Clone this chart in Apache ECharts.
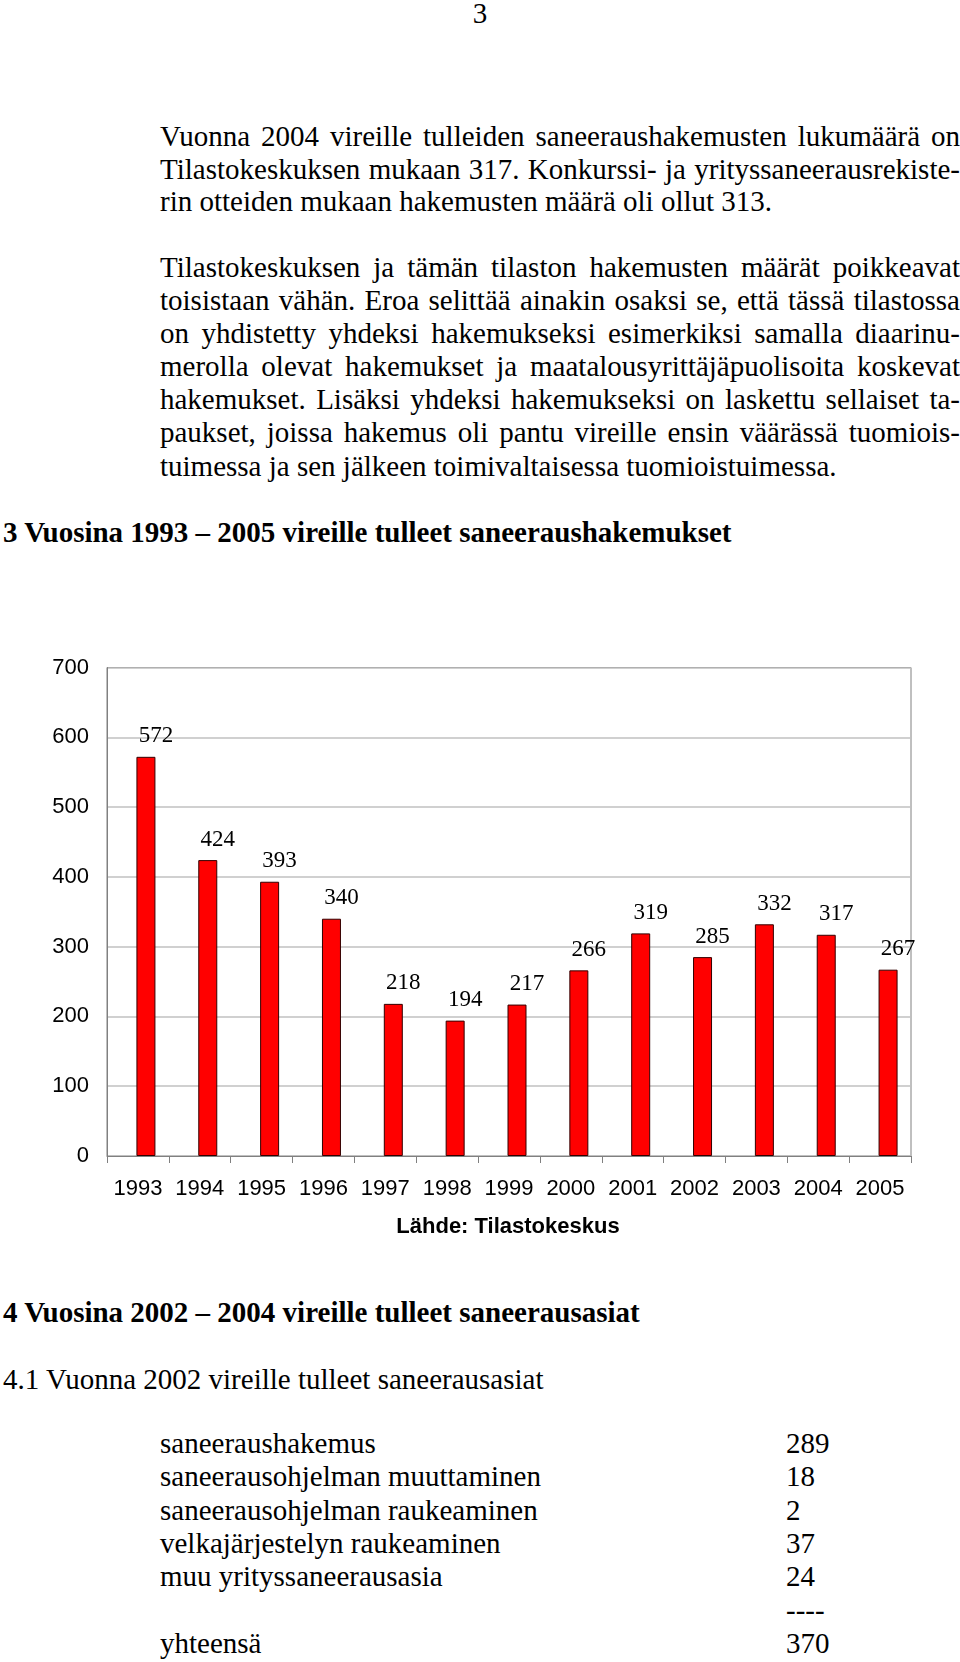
<!DOCTYPE html>
<html><head><meta charset="utf-8">
<script src="https://cdn.jsdelivr.net/npm/echarts@6/dist/echarts.min.js"></script>
<style>
html,body{margin:0;padding:0;background:#fff;}
body{width:960px;height:1662px;position:relative;overflow:hidden;font-family:"Liberation Serif","Times New Roman",serif;color:#000;}
.t{position:absolute;font-size:29px;line-height:30px;white-space:nowrap;}
.j{position:absolute;left:160px;width:800px;font-size:29px;line-height:30px;text-align:justify;text-align-last:justify;white-space:nowrap;}
.l{text-align-last:left;}
.b{font-weight:bold;}
#chart{position:absolute;left:0;top:600px;width:960px;height:660px;}
</style></head>
<body>
<div class="t" style="left:0;width:960px;text-align:center;top:-2px;">3</div>

<div class="j" style="top:121px;">Vuonna 2004 vireille tulleiden saneeraushakemusten lukumäärä on</div>
<div class="j" style="top:154px;">Tilastokeskuksen mukaan 317. Konkurssi- ja yrityssaneerausrekiste-</div>
<div class="j l" style="top:186px;">rin otteiden mukaan hakemusten määrä oli ollut 313.</div>

<div class="j" style="top:252px;">Tilastokeskuksen ja tämän tilaston hakemusten määrät poikkeavat</div>
<div class="j" style="top:285px;">toisistaan vähän. Eroa selittää ainakin osaksi se, että tässä tilastossa</div>
<div class="j" style="top:318px;">on yhdistetty yhdeksi hakemukseksi esimerkiksi samalla diaarinu-</div>
<div class="j" style="top:351px;">merolla olevat hakemukset ja maatalousyrittäjäpuolisoita koskevat</div>
<div class="j" style="top:384px;">hakemukset. Lisäksi yhdeksi hakemukseksi on laskettu sellaiset ta-</div>
<div class="j" style="top:417px;">paukset, joissa hakemus oli pantu vireille ensin väärässä tuomiois-</div>
<div class="j l" style="top:451px;">tuimessa ja sen jälkeen toimivaltaisessa tuomioistuimessa.</div>

<div class="t b" style="left:3px;top:517px;">3 Vuosina 1993 – 2005 vireille tulleet saneeraushakemukset</div>

<div id="chart"></div>

<div class="t b" style="left:3px;top:1297px;">4 Vuosina 2002 – 2004 vireille tulleet saneerausasiat</div>
<div class="t" style="left:3px;top:1364px;">4.1 Vuonna 2002 vireille tulleet saneerausasiat</div>

<div class="t" style="left:160px;top:1428px;">saneeraushakemus</div><div class="t" style="left:786px;top:1428px;">289</div>
<div class="t" style="left:160px;top:1461px;">saneerausohjelman muuttaminen</div><div class="t" style="left:786px;top:1461px;">18</div>
<div class="t" style="left:160px;top:1495px;">saneerausohjelman raukeaminen</div><div class="t" style="left:786px;top:1495px;">2</div>
<div class="t" style="left:160px;top:1528px;">velkajärjestelyn raukeaminen</div><div class="t" style="left:786px;top:1528px;">37</div>
<div class="t" style="left:160px;top:1561px;">muu yrityssaneerausasia</div><div class="t" style="left:786px;top:1561px;">24</div>
<div class="t" style="left:786px;top:1595px;">----</div>
<div class="t" style="left:160px;top:1628px;">yhteensä</div><div class="t" style="left:786px;top:1628px;">370</div>

<script>
const years = ['1993','1994','1995','1996','1997','1998','1999','2000','2001','2002','2003','2004','2005'];
const applications = [572, 424, 393, 340, 218, 194, 217, 266, 319, 285, 332, 317, 267];
const yTicks = { min: 0, max: 700, interval: 100 };
const sourceNote = 'Lähde: Tilastokeskus';

const sans = '"Liberation Sans", Arial, sans-serif';
const chart = echarts.init(document.getElementById('chart'), null, {renderer: 'canvas'});
chart.setOption({
  animation: false,
  backgroundColor: '#fff',
  grid: [
    { left: 107, right: 49, top: 67.5, height: 488.5, show: true, borderColor: '#808080', borderWidth: 1, backgroundColor: 'transparent' },
    { left: 115, right: 41, top: 67.5, height: 488.5 }
  ],
  graphic: [{
    type: 'text', x: 508, y: 627,
    style: { text: sourceNote, font: 'bold 22px ' + sans, fill: '#000', align: 'center', verticalAlign: 'middle' }
  }],
  xAxis: [{
    gridIndex: 0, type: 'category', data: years,
    axisLine: { lineStyle: { color: '#808080', width: 1 } },
    axisTick: { show: true, length: 7, lineStyle: { color: '#808080' } },
    axisLabel: { color: '#000', fontFamily: sans, fontSize: 22, margin: 22, interval: 0 }
  }, {
    gridIndex: 1, type: 'category', data: years, show: false
  }],
  yAxis: [{
    gridIndex: 0, type: 'value', min: yTicks.min, max: yTicks.max, interval: yTicks.interval,
    axisLine: { show: true, lineStyle: { color: '#808080' } },
    axisTick: { show: false },
    splitLine: { lineStyle: { color: '#c0c0c0', width: 1.5 } },
    axisLabel: { color: '#000', fontFamily: sans, fontSize: 22, margin: 18 }
  }, {
    gridIndex: 1, type: 'value', min: yTicks.min, max: yTicks.max, interval: yTicks.interval, show: false,
    splitLine: { show: false }
  }],
  series: [{
    type: 'bar', xAxisIndex: 1, yAxisIndex: 1, data: applications, barWidth: 19,
    itemStyle: { color: '#ff0000', borderColor: '#330000', borderWidth: 1 },
    label: { show: true, position: 'top', distance: 9, offset: [10, 0], color: '#000',
      fontFamily: '"Liberation Serif", "Times New Roman", serif', fontSize: 23 }
  }]
});
</script>
</body></html>
